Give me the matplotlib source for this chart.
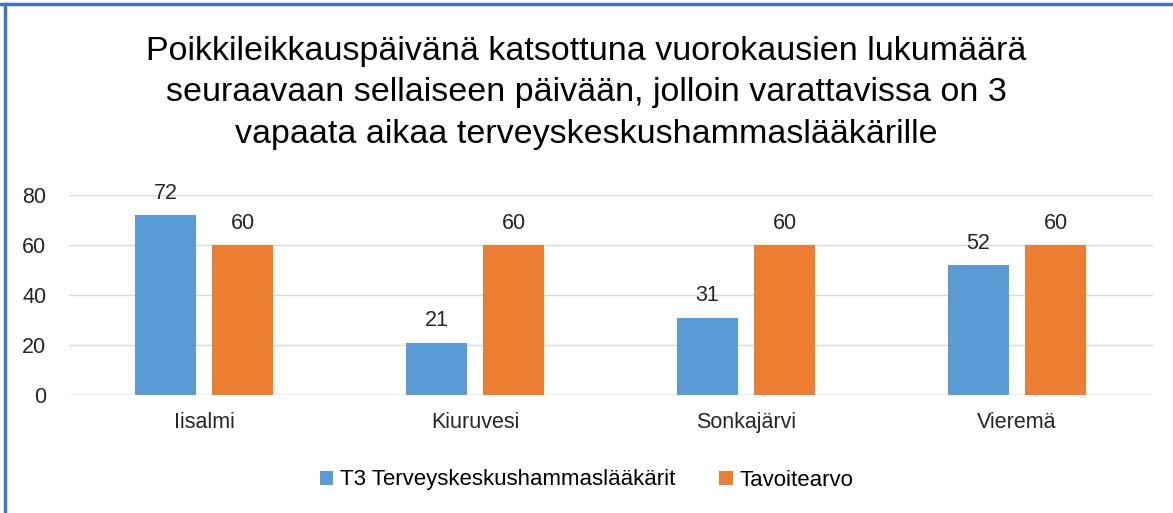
import numpy as np
import matplotlib.pyplot as plt
from matplotlib.lines import Line2D

plt.rcParams['font.family'] = ['Liberation Sans', 'DejaVu Sans']

# data
categories = ["Iisalmi", "Kiuruvesi", "Sonkajärvi", "Vieremä"]
t3_values = [72, 21, 31, 52]
target_values = [60, 60, 60, 60]
series_names = ["T3 Terveyskeskushammaslääkärit", "Tavoitearvo"]
title = ("Poikkileikkauspäivänä katsottuna vuorokausien lukumäärä\n"
         "seuraavaan sellaiseen päivään, jolloin varattavissa on 3\n"
         "vapaata aikaa terveyskeskushammaslääkärille")

blue = "#5B9BD5"
orange = "#ED7D31"

fig = plt.figure(figsize=(11.73, 5.13), dpi=100)
ax = fig.add_axes([68.5 / 1173, 1 - 395 / 513, (1152.5 - 68.5) / 1173, 200 / 513])

x = np.arange(len(categories))
w = 0.225
b1 = ax.bar(x - 0.142, t3_values, w, color=blue, label=series_names[0], zorder=3)
b2 = ax.bar(x + 0.142, target_values, w, color=orange, label=series_names[1], zorder=3)

# value labels above the bars
for bars in (b1, b2):
    for r in bars:
        ax.text(r.get_x() + r.get_width() / 2, r.get_height() + 4.5, str(int(r.get_height())),
                ha="center", va="bottom", fontsize=15.5, color="#262626")

ax.set_xlim(-0.5, len(categories) - 0.5)
ax.set_ylim(0, 80)
ax.set_yticks([0, 20, 40, 60, 80])
ax.set_xticks(x)
ax.set_xticklabels(categories)
ax.tick_params(axis="both", length=0, labelsize=15.5, colors="#262626")
ax.tick_params(axis="x", pad=12)
ax.tick_params(axis="y", pad=16)
ax.grid(axis="y", color="#D9D9D9", linewidth=1, zorder=0)
for s in ax.spines.values():
    s.set_visible(False)
ax.axhline(0, color="#D9D9D9", linewidth=1, zorder=1)

fig.text(0.5, 1 - 93 / 513, title, ha="center", va="center", fontsize=24.5,
         color="#000000", linespacing=1.45)

fig.legend(handles=[b1, b2], loc="center", bbox_to_anchor=(0.5, 1 - 480 / 513),
           ncol=2, frameon=False, fontsize=16, handlelength=0.6, handleheight=0.6,
           columnspacing=2.0, handletextpad=0.3)

# border like the original chart frame
fig.add_artist(Line2D([0, 1], [1 - 4 / 513, 1 - 4 / 513], color="#4472C4", linewidth=2.5))
fig.add_artist(Line2D([5 / 1173, 5 / 1173], [0, 1 - 4 / 513], color="#4472C4", linewidth=2.5))

fig.savefig("out.png", dpi=100)
